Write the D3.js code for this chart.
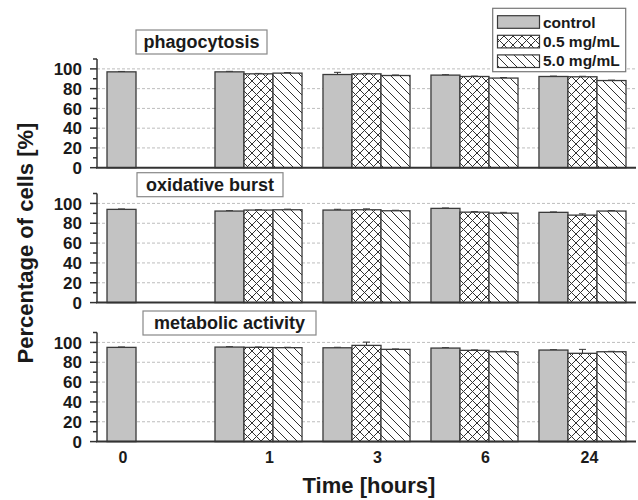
<!DOCTYPE html>
<html><head><meta charset="utf-8">
<script src="https://cdn.jsdelivr.net/npm/d3@7"></script>
<style>
html,body{margin:0;padding:0;background:#fff;}
svg{display:block;font-family:"Liberation Sans",Arial,sans-serif;font-weight:bold;}
</style></head>
<body>
<svg id="chart" width="638" height="500"></svg>
<script>
const times = ["0", "1", "3", "6", "24"];
const seriesNames = ["control", "0.5 mg/mL", "5.0 mg/mL"];
const panelTitles = ["phagocytosis", "oxidative burst", "metabolic activity"];
const yTicks = [0, 20, 40, 60, 80, 100];

// values per panel: [control, 0.5, 5.0] per time point
const phagoControl = [97, 97, 94.3, 93.7, 92.3];
const phago05 = [null, 95, 95, 92.3, 92];
const phago50 = [null, 95.7, 93.3, 90.7, 88.2];
const phagoErrControl = [0.4, 0.5, 2.2, 0.4, 0.4];
const phagoErr05 = [null, 0.4, 0.4, 0.4, 0.5];
const phagoErr50 = [null, 0.6, 0.5, 0.5, 0.4];

const oxiControl = [94, 92.3, 93.3, 95, 91];
const oxi05 = [null, 93.3, 93.6, 91.2, 88.2];
const oxi50 = [null, 93.6, 92.6, 90.2, 92.3];
const oxiErrControl = [0.4, 0.4, 0.8, 0.4, 0.4];
const oxiErr05 = [null, 0.4, 0.9, 0.5, 1.3];
const oxiErr50 = [null, 0.6, 0.5, 0.8, 0.4];

const metaControl = [95, 95.3, 94.6, 94.3, 92.3];
const meta05 = [null, 95, 97, 92, 89];
const meta50 = [null, 94.7, 93, 90.6, 90.6];
const metaErrControl = [0.4, 0.4, 0.5, 0.4, 0.4];
const metaErr05 = [null, 0.4, 3.3, 0.5, 4];
const metaErr50 = [null, 0.4, 0.4, 0.6, 0.4];

const panels = [
  {title: panelTitles[0], vals: [phagoControl, phago05, phago50], errs: [phagoErrControl, phagoErr05, phagoErr50]},
  {title: panelTitles[1], vals: [oxiControl, oxi05, oxi50], errs: [oxiErrControl, oxiErr05, oxiErr50]},
  {title: panelTitles[2], vals: [metaControl, meta05, meta50], errs: [metaErrControl, metaErr05, metaErr50]}
];

const svg = d3.select("#chart");
const defs = svg.append("defs");

// patterns
const pc = defs.append("pattern").attr("id","cross").attr("patternUnits","userSpaceOnUse")
  .attr("width",9).attr("height",9);
pc.append("rect").attr("width",9).attr("height",9).attr("fill","#fff");
pc.append("path").attr("d","M0,0L9,9M9,0L0,9M-1,8L1,10M8,-1L10,1M-1,1L1,-1M8,10L10,8")
  .attr("stroke","#333").attr("stroke-width",1).attr("fill","none");
const ph = defs.append("pattern").attr("id","hatch").attr("patternUnits","userSpaceOnUse")
  .attr("width",9).attr("height",9);
ph.append("rect").attr("width",9).attr("height",9).attr("fill","#fff");
ph.append("path").attr("d","M0,0L9,9M-1,8L1,10M8,-1L10,1")
  .attr("stroke","#333").attr("stroke-width",1).attr("fill","none");

const fills = ["#c3c3c3", "url(#cross)", "url(#hatch)"];

const xLeft = 97, xRight = 636;
const x = d3.scaleBand().domain(times).range([xLeft, xRight]).paddingInner(0.194).paddingOuter(0.0926);
const xs = d3.scaleBand().domain(seriesNames).range([0, x.bandwidth()]);

const panelGeom = [{top: 59, bottom: 167.7}, {top: 193.5, bottom: 302.6}, {top: 332.5, bottom: 441.6}];
const titleBoxes = [{x0:136, x1:267, y0:30, y1:54}, {x0:137, x1:283, y0:172.7, y1:196.7}, {x0:143, x1:316, y0:311, y1:335}];

panels.forEach((p, pi) => {
  const g = svg.append("g");
  const geo = panelGeom[pi];
  const y = d3.scaleLinear().domain([0, 110]).range([geo.bottom, geo.top]);

  // grid
  g.selectAll("line.grid").data(yTicks.filter(d => d > 0)).enter().append("line")
    .attr("x1", xLeft).attr("x2", xRight).attr("y1", d => y(d)).attr("y2", d => y(d))
    .attr("stroke", "#bdbdbd").attr("stroke-width", 1).attr("stroke-dasharray", "3,2");

  // bars
  const recs = [];
  times.forEach((t, ti) => {
    seriesNames.forEach((s, si) => {
      const v = p.vals[si][ti];
      if (v != null) recs.push({t, s, si, v, e: p.errs[si][ti]});
    });
  });
  // error bars (upper)
  g.selectAll("g.err").data(recs).enter().append("g").each(function(d) {
    const cx = x(d.t) + xs(d.s) + xs.bandwidth() / 2;
    const sel = d3.select(this);
    sel.append("line").attr("x1", cx).attr("x2", cx).attr("y1", y(d.v)).attr("y2", y(d.v + d.e))
      .attr("stroke", "#333").attr("stroke-width", 1);
    sel.append("line").attr("x1", cx - 3.5).attr("x2", cx + 3.5).attr("y1", y(d.v + d.e)).attr("y2", y(d.v + d.e))
      .attr("stroke", "#333").attr("stroke-width", 1);
  });
  g.selectAll("rect.bar").data(recs).enter().append("rect")
    .attr("x", d => x(d.t) + xs(d.s))
    .attr("width", xs.bandwidth())
    .attr("y", d => y(d.v))
    .attr("height", d => y(0) - y(d.v))
    .attr("fill", d => fills[d.si])
    .attr("stroke", "#3a3a3a").attr("stroke-width", 1.3);

  // y axis
  const ax = g.append("g").attr("transform", `translate(${xLeft},0)`);
  ax.append("line").attr("x1", 0).attr("x2", 0).attr("y1", y(110)).attr("y2", y(0))
    .attr("stroke", "#333").attr("stroke-width", 1.5);
  ax.selectAll("line.tk").data(d3.range(0, 111, 10)).enter().append("line")
    .attr("x1", d => d % 20 === 0 ? -7 : -4).attr("x2", 0)
    .attr("y1", d => y(d)).attr("y2", d => y(d))
    .attr("stroke", "#333").attr("stroke-width", 1.5);
  ax.selectAll("text.tl").data(yTicks).enter().append("text")
    .attr("x", -15).attr("y", d => y(d)).attr("dy", "0.36em")
    .attr("text-anchor", "end").attr("font-size", 17).attr("fill", "#1a1a1a")
    .text(d => d);

  // x baseline
  g.append("line").attr("x1", xLeft - 1).attr("x2", xRight).attr("y1", y(0)).attr("y2", y(0))
    .attr("stroke", "#333").attr("stroke-width", 2);

  // title box
  const tb = titleBoxes[pi];
  g.append("rect").attr("x", tb.x0).attr("y", tb.y0).attr("width", tb.x1 - tb.x0).attr("height", tb.y1 - tb.y0)
    .attr("fill", "#fff").attr("stroke", "#888").attr("stroke-width", 1.2);
  g.append("text").attr("x", (tb.x0 + tb.x1) / 2).attr("y", (tb.y0 + tb.y1) / 2).attr("dy", "0.33em")
    .attr("text-anchor", "middle").attr("font-size", 18).attr("fill", "#1a1a1a").text(p.title);
});

// x tick labels
svg.selectAll("text.xl").data(times).enter().append("text")
  .attr("x", (d, i) => i === 0 ? x(d) + xs("control") + xs.bandwidth() / 2 + 1.5 : x(d) + x.bandwidth() / 2 + 11 - (d.length - 1) * 4)
  .attr("y", 463).attr("text-anchor", "middle").attr("font-size", 16).attr("fill", "#1a1a1a")
  .text(d => d);

// axis titles
svg.append("text").attr("x", 369).attr("y", 493).attr("text-anchor", "middle")
  .attr("font-size", 22).attr("fill", "#1a1a1a").text("Time [hours]");
svg.append("text").attr("transform", "translate(33,243) rotate(-90)").attr("text-anchor", "middle")
  .attr("font-size", 22).attr("fill", "#1a1a1a").text("Percentage of cells [%]");

// legend
const lg = svg.append("g");
lg.append("rect").attr("x", 492.7).attr("y", 8.3).attr("width", 133).attr("height", 63.4)
  .attr("fill", "#fff").attr("stroke", "#777").attr("stroke-width", 1.2);
seriesNames.forEach((s, i) => {
  lg.append("rect").attr("x", 497.5).attr("y", 15.7 + i * 19.6).attr("width", 42).attr("height", 12.6)
    .attr("fill", fills[i]).attr("stroke", "#3a3a3a").attr("stroke-width", 1.2);
  lg.append("text").attr("x", 543).attr("y", 27.5 + i * 19.2).attr("font-size", 15.5)
    .attr("fill", "#1a1a1a").text(s);
});
</script>
</body></html>
